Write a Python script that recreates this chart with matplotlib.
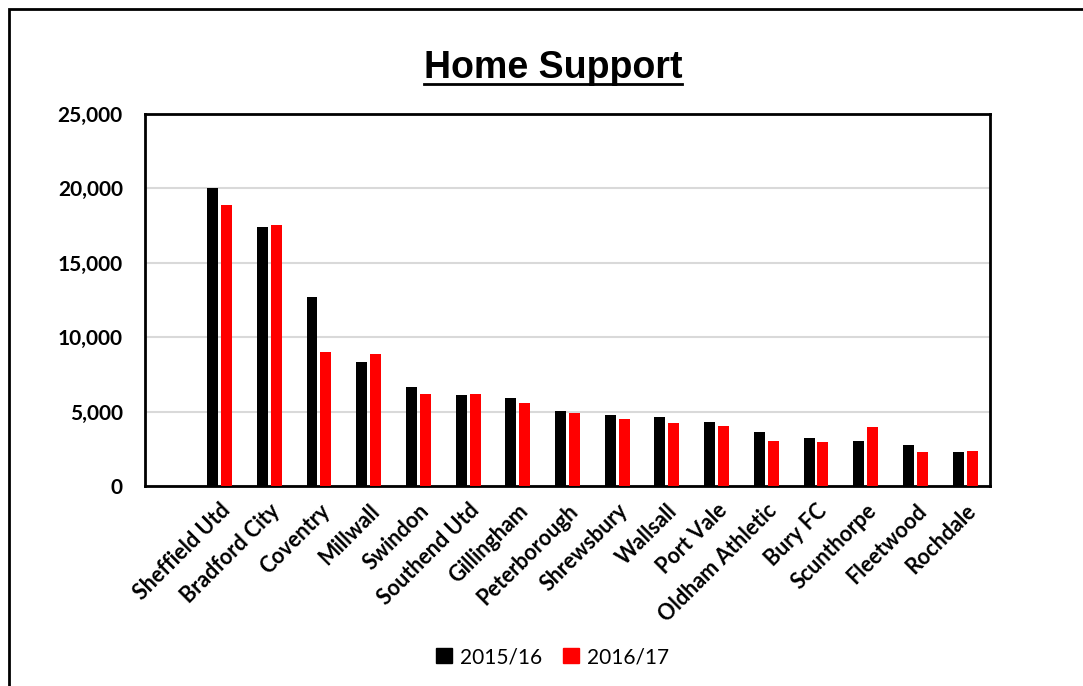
import matplotlib
matplotlib.use("Agg")
import matplotlib.pyplot as plt
import matplotlib.patches as mpatches
import numpy as np

clubs = ["Sheffield Utd", "Bradford City", "Coventry", "Millwall", "Swindon",
         "Southend Utd", "Gillingham", "Peterborough", "Shrewsbury", "Wallsall",
         "Port Vale", "Oldham Athletic", "Bury FC", "Scunthorpe", "Fleetwood",
         "Rochdale"]
season_1516 = [20000, 17430, 12680, 8330, 6630, 6090, 5890, 5040, 4750, 4660,
               4300, 3600, 3230, 3020, 2730, 2290]
season_1617 = [18890, 17520, 8990, 8890, 6160, 6160, 5580, 4910, 4500, 4210,
               4060, 3020, 2980, 3960, 2290, 2370]
series_labels = ["2015/16", "2016/17"]

C_BLACK = "#000000"
C_RED = "#ff0000"
TICK_FONT = ["Lato", "DejaVu Sans"]

fig = plt.figure(figsize=(10.83, 6.86), dpi=100)
ax = fig.add_axes([0.1339, 0.2915, 0.7802, 0.5423])

x = np.arange(len(clubs))
w = 0.22
ax.bar(x - 0.14, season_1516, w, color=C_BLACK, zorder=3)
ax.bar(x + 0.14, season_1617, w, color=C_RED, zorder=3)

ax.set_xlim(-1.5, len(clubs) - 0.5)
ax.set_ylim(0, 25000)
ax.set_yticks(np.arange(0, 25001, 5000))
ax.set_yticklabels([f"{v:,}" for v in range(0, 25001, 5000)],
                   fontsize=15, fontweight="bold", family=TICK_FONT)
ax.set_xticks(x)
ax.set_xticklabels(clubs, rotation=45, ha="right", rotation_mode="anchor",
                   fontsize=15.5, fontweight="bold", family=TICK_FONT)
ax.tick_params(axis="both", length=0)
ax.tick_params(axis="x", pad=10)
ax.tick_params(axis="y", pad=16)
ax.grid(axis="y", color="#d9d9d9", linewidth=1.5, zorder=0)
for s in ax.spines.values():
    s.set_linewidth(2)
    s.set_color("black")

title = fig.text(0.5106, 1 - 78 / 686, "Home Support", ha="center", va="baseline",
                 fontsize=27, fontweight="bold",
                 family=["Liberation Sans", "DejaVu Sans"])
# underline the title across its own width
fig.canvas.draw()
tb = title.get_window_extent().transformed(fig.transFigure.inverted())
fig.add_artist(plt.Line2D([tb.x0, tb.x1], [1 - 84 / 686, 1 - 84 / 686],
                          color="black", linewidth=2))

handles = [mpatches.Patch(color=C_BLACK, label=series_labels[0]),
           mpatches.Patch(color=C_RED, label=series_labels[1])]
fig.legend(handles=handles, loc="center", bbox_to_anchor=(0.5106, 1 - 657 / 686),
           ncol=2, frameon=False, handlelength=0.75, handleheight=0.75,
           handletextpad=0.4, columnspacing=1.0,
           prop={"family": TICK_FONT, "size": 15})

# outer chart border
fig.add_artist(mpatches.Rectangle((9 / 1083, -0.05), 1.2, 1.05 - 9 / 686,
                                  transform=fig.transFigure, fill=False,
                                  edgecolor="black", linewidth=2))

fig.savefig("out.png", dpi=100)
